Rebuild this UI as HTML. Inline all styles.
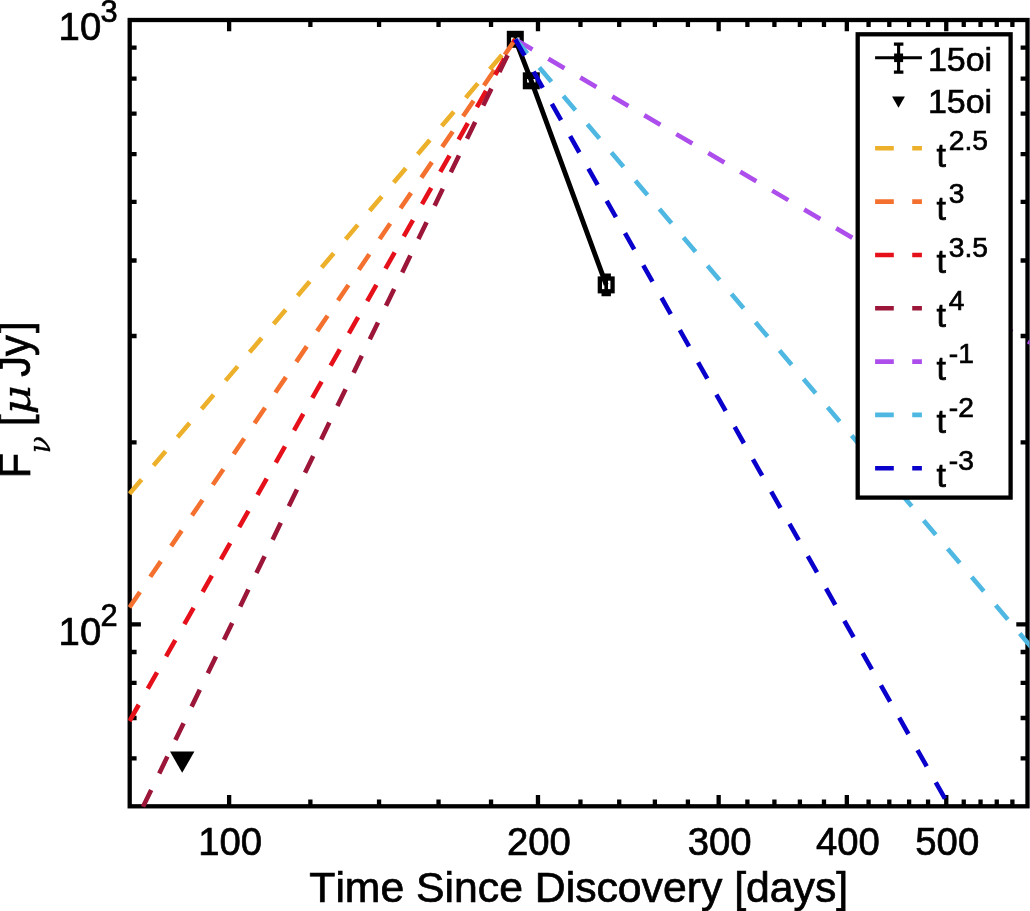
<!DOCTYPE html>
<html lang="en"><head><meta charset="utf-8"><title>15oi light curve</title>
<style>html,body{margin:0;padding:0;background:#fff;}body{width:1030px;height:911px;overflow:hidden;}svg{display:block;}text{font-family:'Liberation Sans', Arial, Helvetica, sans-serif;fill:#000;stroke:#000;stroke-width:0.7px;font-kerning:none;}</style>
</head><body>
<svg width="1030" height="911" viewBox="0 0 1030 911">
<rect x="0" y="0" width="1030" height="911" fill="#ffffff"/>
<defs><clipPath id="ax"><rect x="128.20" y="18.50" width="901.30" height="789.30"/></clipPath></defs>
<path d="M229.13 806.30V795.10M229.13 20.00V31.20M310.37 806.30V799.40M310.37 20.00V26.90M379.05 806.30V799.40M379.05 20.00V26.90M438.55 806.30V799.40M438.55 20.00V26.90M491.03 806.30V799.40M491.03 20.00V26.90M537.98 806.30V795.10M537.98 20.00V31.20M580.45 806.30V799.40M580.45 20.00V26.90M619.22 806.30V799.40M619.22 20.00V26.90M654.88 806.30V799.40M654.88 20.00V26.90M687.91 806.30V799.40M687.91 20.00V26.90M718.65 806.30V795.10M718.65 20.00V31.20M747.40 806.30V799.40M747.40 20.00V26.90M774.42 806.30V799.40M774.42 20.00V26.90M799.89 806.30V799.40M799.89 20.00V26.90M823.98 806.30V799.40M823.98 20.00V26.90M846.83 806.30V795.10M846.83 20.00V31.20M868.57 806.30V799.40M868.57 20.00V26.90M889.30 806.30V799.40M889.30 20.00V26.90M909.11 806.30V799.40M909.11 20.00V26.90M928.07 806.30V799.40M928.07 20.00V26.90M946.26 806.30V795.10M946.26 20.00V31.20M963.74 806.30V799.40M963.74 20.00V26.90M980.55 806.30V799.40M980.55 20.00V26.90M996.76 806.30V799.40M996.76 20.00V26.90M1012.39 806.30V799.40M1012.39 20.00V26.90M129.70 758.45H136.60M1027.50 758.45H1020.60M129.70 717.98H136.60M1027.50 717.98H1020.60M129.70 682.94H136.60M1027.50 682.94H1020.60M129.70 652.02H136.60M1027.50 652.02H1020.60M129.70 624.37H140.90M1027.50 624.37H1016.30M129.70 442.43H136.60M1027.50 442.43H1020.60M129.70 336.01H136.60M1027.50 336.01H1020.60M129.70 260.50H136.60M1027.50 260.50H1020.60M129.70 201.93H136.60M1027.50 201.93H1020.60M129.70 154.08H136.60M1027.50 154.08H1020.60M129.70 113.62H136.60M1027.50 113.62H1020.60M129.70 78.57H136.60M1027.50 78.57H1020.60M129.70 47.65H136.60M1027.50 47.65H1020.60" stroke="#000" stroke-width="4.30" fill="none"/>
<rect x="129.70" y="20.00" width="897.80" height="786.30" fill="none" stroke="#000" stroke-width="4.30"/>
<text x="230.13" y="855.2" font-size="38.3" text-anchor="middle">100</text>
<text x="538.98" y="855.2" font-size="38.3" text-anchor="middle">200</text>
<text x="719.65" y="855.2" font-size="38.3" text-anchor="middle">300</text>
<text x="847.83" y="855.2" font-size="38.3" text-anchor="middle">400</text>
<text x="947.26" y="855.2" font-size="38.3" text-anchor="middle">500</text>
<text x="58.6" y="40.30" font-size="38.3">10</text>
<text x="100.6" y="22.00" font-size="30.8">3</text>
<text x="58.6" y="644.67" font-size="38.3">10</text>
<text x="100.6" y="626.37" font-size="30.8">2</text>
<text transform="translate(578.7 901.7) scale(1.027 1)" x="0" y="0" font-size="41.6" text-anchor="middle">Time Since Discovery [days]</text>
<g transform="translate(30.4 478.3) rotate(-90) scale(1 1.045)">
<text x="0" y="0" font-size="41.6">F</text>
<text x="25.0" y="19.2" font-size="28" font-style="italic" style="font-family:'DejaVu Serif', 'Liberation Serif', serif;stroke-width:0.3px">ν</text>
<text x="52.3" y="0" font-size="41.6">[</text>
<text transform="translate(63.8 0) scale(1.22 1)" x="0" y="0" font-size="37" font-style="italic" style="font-family:'DejaVu Serif', 'Liberation Serif', serif;stroke-width:0.3px">μ</text>
<text x="101.5" y="0" font-size="41.6">Jy</text>
<text x="145.2" y="0" font-size="41.6">]</text>
</g>
<g clip-path="url(#ax)">
<polyline points="515.3,39.3 531.3,80.8 606.2,284.9" fill="none" stroke="#000" stroke-width="4.9" stroke-linejoin="miter"/>
<path d="M515.30 34.30V44.30M510.60 35.70h9.4M510.60 42.90h9.4" stroke="#000" stroke-width="3.6" fill="none"/>
<rect x="508.95" y="32.95" width="12.70" height="12.70" fill="none" stroke="#000" stroke-width="4.3"/>
<path d="M531.30 75.80V85.80M526.60 77.20h9.4M526.60 84.40h9.4" stroke="#000" stroke-width="3.6" fill="none"/>
<rect x="524.95" y="74.45" width="12.70" height="12.70" fill="none" stroke="#000" stroke-width="4.3"/>
<path d="M606.20 274.00V295.80M601.50 275.40h9.4M601.50 294.40h9.4" stroke="#000" stroke-width="3.6" fill="none"/>
<rect x="599.85" y="278.55" width="12.70" height="12.70" fill="none" stroke="#000" stroke-width="4.3"/>
<path d="M170.00 751.60h24.4l-12.2 21.2z" fill="#000"/>
<line x1="515.30" y1="39.30" x2="-390.67" y2="1106.64" stroke="#EDB02A" stroke-width="4.60" stroke-dasharray="18.70 18.42" stroke-dashoffset="16.42"/>
<line x1="515.30" y1="39.30" x2="-271.18" y2="1197.51" stroke="#F4702E" stroke-width="4.60" stroke-dasharray="18.70 18.42" stroke-dashoffset="0.00"/>
<line x1="515.30" y1="39.30" x2="-174.19" y2="1257.75" stroke="#E5101A" stroke-width="4.60" stroke-dasharray="18.70 18.42" stroke-dashoffset="14.92"/>
<line x1="515.30" y1="39.30" x2="-95.67" y2="1298.95" stroke="#9B1638" stroke-width="4.60" stroke-dasharray="18.70 18.42" stroke-dashoffset="19.42"/>
<line x1="515.30" y1="39.30" x2="1721.57" y2="749.87" stroke="#AC4DEC" stroke-width="4.60" stroke-dasharray="18.70 18.42" stroke-dashoffset="35.92"/>
<line x1="515.30" y1="39.30" x2="1421.27" y2="1106.64" stroke="#4FB8E2" stroke-width="4.60" stroke-dasharray="18.70 18.42" stroke-dashoffset="0.00"/>
<line x1="515.30" y1="39.30" x2="1204.79" y2="1257.75" stroke="#0A00CC" stroke-width="4.60" stroke-dasharray="18.70 18.42" stroke-dashoffset="0.00"/>
</g>
<rect x="857.70" y="34.30" width="152.90" height="463.30" fill="#fff" stroke="#000" stroke-width="4.3"/>
<path d="M875.1 57.8H921.9M898.6 44.1V72.1M893.9 44.1h9.5M893.9 72.1h9.5" stroke="#000" stroke-width="3.1" fill="none"/>
<rect x="894.1" y="53.5" width="9" height="8.6" fill="#000"/>
<text x="927.9" y="70.6" font-size="34.0">15oi</text>
<path d="M892.1 96.6h12.8l-6.4 11.2z" fill="#000"/>
<text x="927.9" y="112.7" font-size="34.0">15oi</text>
<line x1="875.1" y1="148.30" x2="921.9" y2="148.30" stroke="#EDB02A" stroke-width="4.60" stroke-dasharray="18.70 18.42"/>
<text x="936.6" y="166.70" font-size="34.0">t</text>
<text x="948.8" y="150.00" font-size="28.2">2.5</text>
<line x1="875.1" y1="201.62" x2="921.9" y2="201.62" stroke="#F4702E" stroke-width="4.60" stroke-dasharray="18.70 18.42"/>
<text x="936.6" y="220.02" font-size="34.0">t</text>
<text x="948.8" y="203.32" font-size="28.2">3</text>
<line x1="875.1" y1="254.94" x2="921.9" y2="254.94" stroke="#E5101A" stroke-width="4.60" stroke-dasharray="18.70 18.42"/>
<text x="936.6" y="273.34" font-size="34.0">t</text>
<text x="948.8" y="256.64" font-size="28.2">3.5</text>
<line x1="875.1" y1="308.26" x2="921.9" y2="308.26" stroke="#9B1638" stroke-width="4.60" stroke-dasharray="18.70 18.42"/>
<text x="936.6" y="326.66" font-size="34.0">t</text>
<text x="948.8" y="309.96" font-size="28.2">4</text>
<line x1="875.1" y1="361.58" x2="921.9" y2="361.58" stroke="#AC4DEC" stroke-width="4.60" stroke-dasharray="18.70 18.42"/>
<text x="936.6" y="379.98" font-size="34.0">t</text>
<text x="948.8" y="363.28" font-size="28.2">-1</text>
<line x1="875.1" y1="414.90" x2="921.9" y2="414.90" stroke="#4FB8E2" stroke-width="4.60" stroke-dasharray="18.70 18.42"/>
<text x="936.6" y="433.30" font-size="34.0">t</text>
<text x="948.8" y="416.60" font-size="28.2">-2</text>
<line x1="875.1" y1="468.22" x2="921.9" y2="468.22" stroke="#0A00CC" stroke-width="4.60" stroke-dasharray="18.70 18.42"/>
<text x="936.6" y="486.62" font-size="34.0">t</text>
<text x="948.8" y="469.92" font-size="28.2">-3</text>
</svg>
</body></html>
